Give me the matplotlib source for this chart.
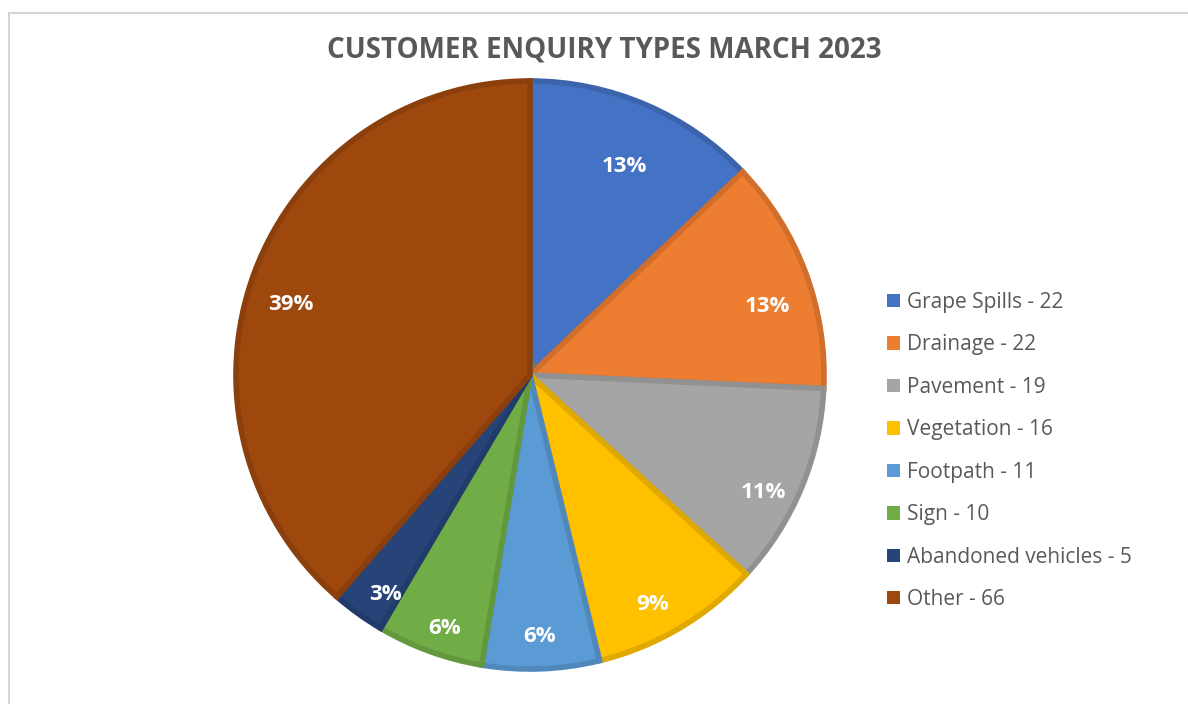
import matplotlib
matplotlib.use("Agg")
import matplotlib.pyplot as plt
import numpy as np
from matplotlib.patches import Rectangle, Patch
from matplotlib.colors import to_rgb

# ── data ────────────────────────────────────────────────────────────────────
categories = ["Grape Spills", "Drainage", "Pavement", "Vegetation",
              "Footpath", "Sign", "Abandoned vehicles", "Other"]
counts = [22, 22, 19, 16, 11, 10, 5, 66]
colors = ["#4472C4", "#ED7D31", "#A5A5A5", "#FFC000",
          "#5B9BD5", "#70AD47", "#264478", "#9E480E"]
title = "CUSTOMER ENQUIRY TYPES MARCH 2023"

# where Excel dropped each % label: fraction of radius, angle nudge (deg)
label_r = [0.77, 0.83, 0.878, 0.878, 0.882, 0.90, 0.887, 0.84]
label_nudge = [-1.3, -4.5, -4.1, -2.4, 0.0, 1.4, 2.4, 4.2]

FONT = ["Open Sans", "DejaVu Sans"]
GREY = "#595959"
W, H = 1188, 704


def darker(c, f=0.88):
    return tuple(v * f for v in to_rgb(c))


fig = plt.figure(figsize=(W / 100, H / 100), dpi=100)
fig.patch.set_facecolor("white")

# chart-area border (Excel style)
fig.patches.append(Rectangle((9 / W, -0.1), 1.2, (H - 13) / H + 0.1,
                             transform=fig.transFigure, fill=False,
                             edgecolor="#d4d4d4", linewidth=1.5))

# pie axes, placed in pixel terms
cx, cy, r = 530, 375, 297
ax = fig.add_axes([(cx - r) / W, (H - cy - r) / H, 2 * r / W, 2 * r / H])
wedges, _ = ax.pie(counts, colors=colors, startangle=90, counterclock=False,
                   radius=0.99, wedgeprops=dict(linewidth=4, joinstyle="miter"))
total = sum(counts)
for w, c, v, d, nd in zip(wedges, colors, counts, label_r, label_nudge):
    w.set_edgecolor(darker(c))
    ang = np.deg2rad((w.theta1 + w.theta2) / 2 + nd)
    ax.text(d * np.cos(ang), d * np.sin(ang), f"{100 * v / total:.0f}%",
            ha="center", va="center", color="white", fontsize=16,
            fontweight="bold", family=FONT)
ax.set_xlim(-1, 1)
ax.set_ylim(-1, 1)

fig.text(604 / W, 1 - 50 / H, title, ha="center", va="center",
         fontsize=20, fontweight="bold", color=GREY, family=FONT)

handles = [Patch(facecolor=c, edgecolor="none") for c in colors]
labels = [f"{n} - {v}" for n, v in zip(categories, counts)]
fig.legend(handles, labels, loc="upper left", bbox_to_anchor=(887 / W, 1 - 292 / H),
           frameon=False, handlelength=0.6, handleheight=0.6, handletextpad=0.35,
           labelspacing=1.03, prop=dict(family=FONT, size=15), labelcolor=GREY,
           borderpad=0, borderaxespad=0)

fig.savefig("out.png", dpi=100, facecolor="white")
